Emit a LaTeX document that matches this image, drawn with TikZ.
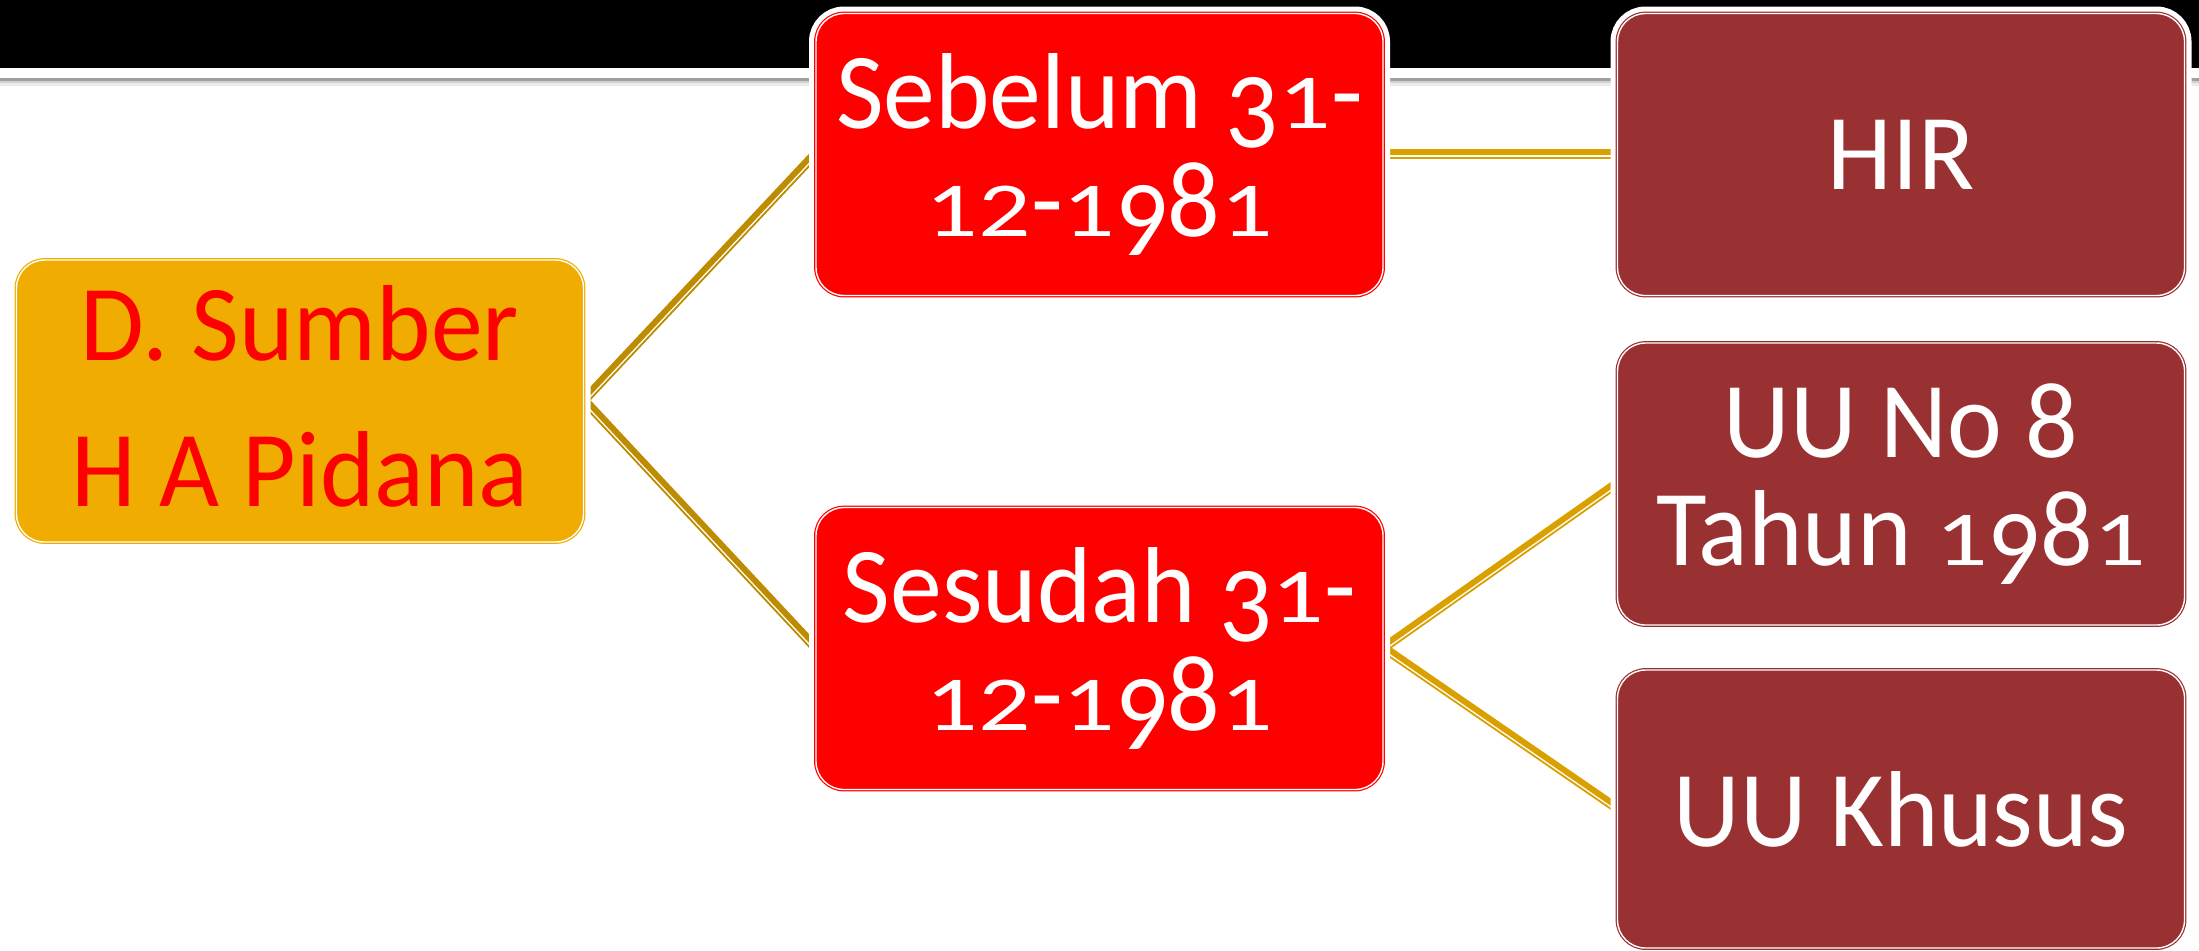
\documentclass[tikz,border=0pt]{standalone}
\usepackage{fontspec}
\usepackage{graphicx}
\setmainfont{Carlito}[FakeStretch=0.96]
\usetikzlibrary{calc,backgrounds}
\definecolor{boxorange}{RGB}{240,172,0}
\definecolor{boxred}{RGB}{255,0,0}
\definecolor{boxbrown}{RGB}{153,48,50}
\definecolor{linkdark}{RGB}{190,140,0}
\definecolor{linkgold}{RGB}{218,160,0}
% old-style figure imitations
\newcommand\dOne{\scalebox{1}[0.72]{1}}
\newcommand\dTwo{\scalebox{1}[0.72]{2}}
\newcommand\dThree{\raisebox{-0.178em}{3}}
\newcommand\dNine{\raisebox{-0.178em}{9}}
\newcommand\linkpair[3]{%
  \draw[#3, line width=3pt] ($(#1)!1.1pt!90:(#2)$) -- ($(#2)!1.1pt!-90:(#1)$);
  \draw[#3, line width=0.9pt] ($(#1)!1.65pt!-90:(#2)$) -- ($(#2)!1.65pt!90:(#1)$);
}
\tikzset{
  box/.style={rounded corners=14pt, minimum width=283.5pt, minimum height=141pt,
    fill=#1, draw=#1, double=white, double distance=0.7pt, line width=0.6pt,
    preaction={draw=white, line width=7pt},
    text=white, align=center, inner sep=0pt,
    font=\fontsize{54pt}{54pt}\selectfont},
  leftbox/.style={box=boxorange, text=boxred, text depth=5pt,
    font=\fontsize{54pt}{73pt}\selectfont}
}
\begin{document}
\begin{tikzpicture}[x=0.5pt,y=-0.5pt]
\useasboundingbox (0,0) rectangle (2199,950);
\node[leftbox] (src) at (300,401) {D. Sumber\\H A Pidana};
\node[box=boxred] (seb) at (1099.5,154.5) {Sebelum \dThree\dOne-\\\dOne\dTwo-\dOne\dNine8\dOne};
\node[box=boxred] (ses) at (1099.5,648.5) {Sesudah \dThree\dOne-\\\dOne\dTwo-\dOne\dNine8\dOne};
\node[box=boxbrown] (hir) at (1901,154.5) {HIR};
\node[box=boxbrown] (uu8) at (1901,484) {UU No 8\\Tahun \dOne\dNine8\dOne};
\node[box=boxbrown, minimum height=139pt] (khs) at (1901,809) {UU Khusus};
\begin{scope}[on background layer]
  \fill[black] (0,0) rectangle (2199,68);
  \fill[gray!15] (0,80) rectangle (2199,86);
  \fill[gray!35] (0,80) rectangle (2199,83);
  \fill[gray!75] (0,77.5) rectangle (2199,80.5);
  \linkpair{src.east}{seb.west}{linkdark}
  \linkpair{src.east}{ses.west}{linkdark}
  \linkpair{seb.east}{hir.west}{linkgold}
  \linkpair{ses.east}{uu8.west}{linkgold}
  \linkpair{ses.east}{khs.west}{linkgold}
\end{scope}
\end{tikzpicture}
\end{document}
